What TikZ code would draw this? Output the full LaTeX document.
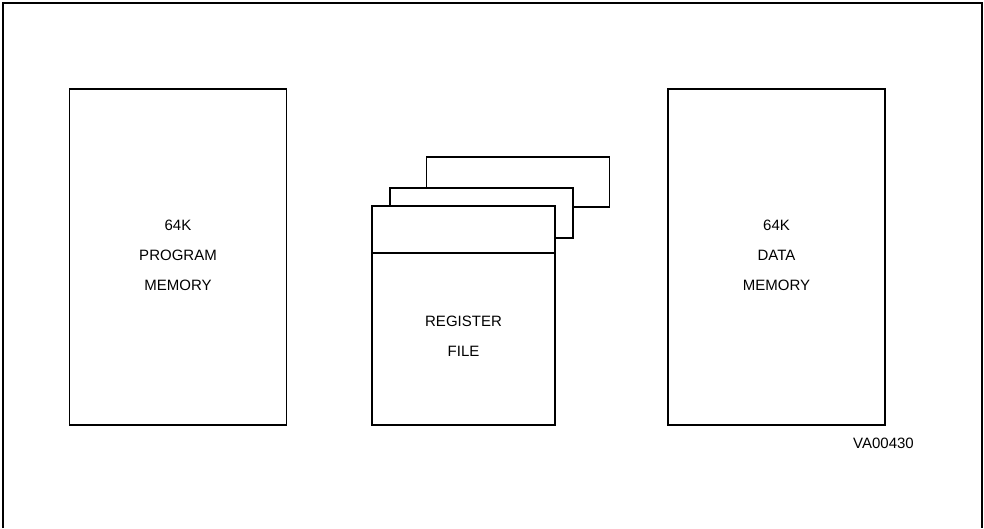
\documentclass[tikz,border=0pt]{standalone}
\usepackage{fontspec}
\setmainfont{Liberation Sans}
\usetikzlibrary{positioning,calc}
\tikzset{
  memblk/.style={draw=black,fill=white,line width=1.1pt,minimum width=217pt,
                 minimum height=336pt,inner sep=0pt},
  sheet/.style={draw=black,fill=white,line width=1.1pt,minimum width=183pt,
                minimum height=50pt,inner sep=0pt},
  txt/.style={align=center,font=\fontsize{15}{30}\selectfont,inner sep=0pt},
}

\begin{document}
\begin{tikzpicture}[x=1pt,y=-1pt]
  \useasboundingbox (0,0) rectangle (984,528);
  % cadre ouvert en bas
  \draw[line width=1.1pt] (3,528) -- (3,3) -- (982,3) -- (982,528);

  \node[memblk] (prog) at (178,257) {};
  \node[txt] (progt) at (178,255) {64K\\PROGRAM\\MEMORY};

  \node[memblk] (data) at (776.5,257) {};
  \node[txt] (datat) at (776.5,255) {64K\\DATA\\MEMORY};

  % les feuilles du fichier de registres, de l'arriere vers l'avant
  \node[sheet] (back) at (518,182) {};
  \node[sheet] (mid)  at (481.5,213) {};
  \node[memblk,minimum width=183pt,minimum height=219pt] (regf) at (463.5,315.5) {};
  \draw[line width=1.1pt] (regf.west |- 0,253) -- (regf.east |- 0,253);
  \node[txt] (regt) at (463.5,336) {REGISTER\\FILE};

  \node[txt,anchor=east] (ref) at (914,443) {VA00430};
\end{tikzpicture}
\end{document}
